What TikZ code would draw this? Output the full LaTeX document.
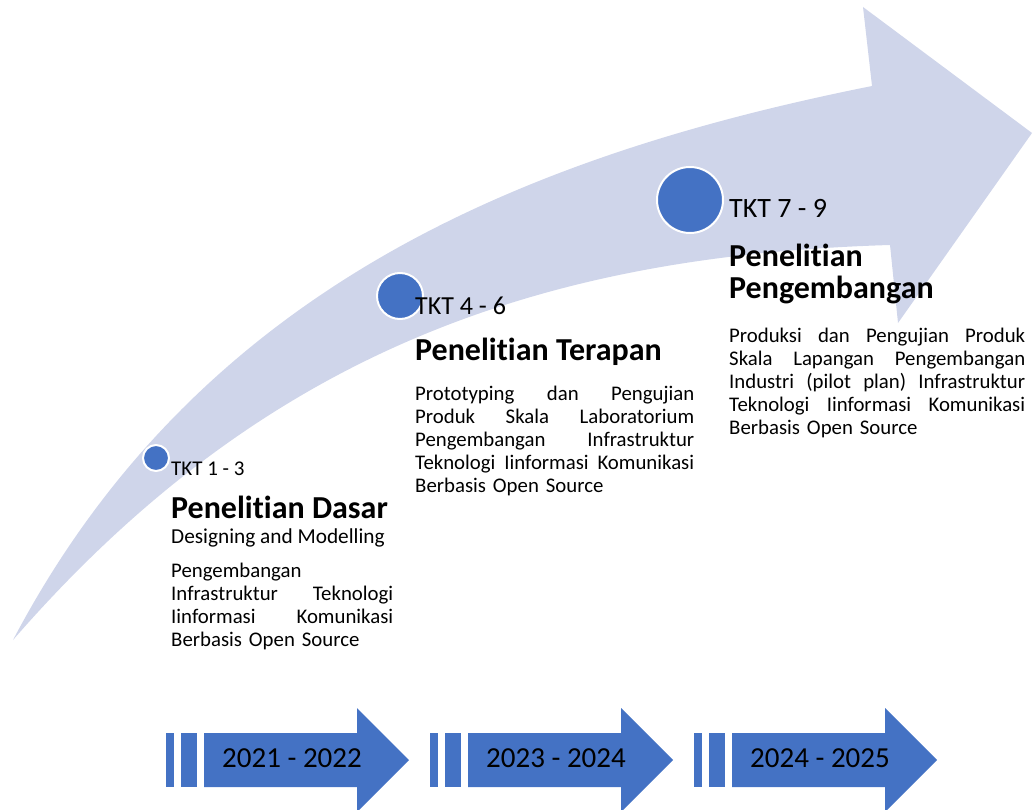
\documentclass[tikz,border=0pt]{standalone}
\usepackage{fontspec}
\setmainfont{Carlito}[Ligatures=NoCommon]
\definecolor{band}{RGB}{207,213,234}
\definecolor{dotblue}{RGB}{68,114,196}
% one justified line of a paragraph
\newcommand{\jline}[1]{\makebox[\hsize][s]{\spaceskip=\fontdimen2\font plus 1fil\relax #1}}

\begin{document}
\begin{tikzpicture}[x=1pt,y=-1pt,
  dot/.style={circle,fill=dotblue,draw=white,line width=2pt,inner sep=0pt},
  tkt/.style={anchor=base west,inner sep=0pt},
  stage/.style={anchor=base west,inner sep=0pt,align=left,font=\fontsize{32}{32}\selectfont\bfseries},
  desc/.style={anchor=base west,inner sep=0pt,font=\fontsize{20.8}{23}\selectfont},
  year/.style={anchor=base,inner sep=0pt,font=\fontsize{29}{32}\selectfont}]
\useasboundingbox (0,0) rectangle (1035,810);

% the big curved arrow
\fill[band] (13,640) .. controls (198,288.5) and (522,156) .. (872,86)
  -- (863,7) -- (1032,133) -- (898,323) -- (890,245)
  .. controls (540,255.5) and (263,352.5) .. (13,640) -- cycle;

% milestones on the arrow
\node[dot,minimum size=26pt] (dot1) at (156,458) {};
\node[dot,minimum size=46pt] (dot2) at (400,296) {};
\node[dot,minimum size=66pt] (dot3) at (690,200) {};

% stage 1
\node[tkt,font=\fontsize{21}{24}\selectfont] (tkt1) at (171,475) {TKT 1 - 3};
\node[stage] (stage1) at (171,518) {Penelitian Dasar};
\node[desc,font=\fontsize{21.3}{23}\selectfont] (sub1) at (171,543) {Designing and Modelling};
\node[desc,text width=222pt] (desc1) at (171,577) {Pengembangan\\
  \jline{Infrastruktur Teknologi}\\
  \jline{Iinformasi Komunikasi}\\
  Berbasis Open Source};

% stage 2
\node[tkt,font=\fontsize{26}{30}\selectfont] (tkt2) at (415,314) {TKT 4 - 6};
\node[stage] (stage2) at (415,360) {Penelitian Terapan};
\node[desc,text width=279pt] (desc2) at (415,400) {\jline{Prototyping dan Pengujian}\\
  \jline{Produk Skala Laboratorium}\\
  \jline{Pengembangan Infrastruktur}\\
  \jline{Teknologi Iinformasi Komunikasi}\\
  Berbasis Open Source};

% stage 3
\node[tkt,font=\fontsize{28}{32}\selectfont] (tkt3) at (729,218) {TKT 7 - 9};
\node[stage] (stage3) at (729,298) {Penelitian\\Pengembangan};
\node[desc,text width=296pt] (desc3) at (729,342) {\jline{Produksi dan Pengujian Produk}\\
  \jline{Skala Lapangan Pengembangan}\\
  \jline{Industri (pilot plan) Infrastruktur}\\
  \jline{Teknologi Iinformasi Komunikasi}\\
  Berbasis Open Source};

% time line
\foreach \x/\yrs [count=\i] in {166/2021 - 2022,430/2023 - 2024,694/2024 - 2025}{
  \fill[dotblue] (\x,733) rectangle (\x+8,787);
  \fill[dotblue] (\x+15,733) rectangle (\x+31,787);
  \fill[dotblue] (\x+38,733) -- (\x+191,733) -- (\x+191,708) -- (\x+243,760)
    -- (\x+191,812) -- (\x+191,787) -- (\x+38,787) -- cycle;
  \node[year] (yr\i) at (\x+126,767) {\yrs};
}
\end{tikzpicture}
\end{document}
